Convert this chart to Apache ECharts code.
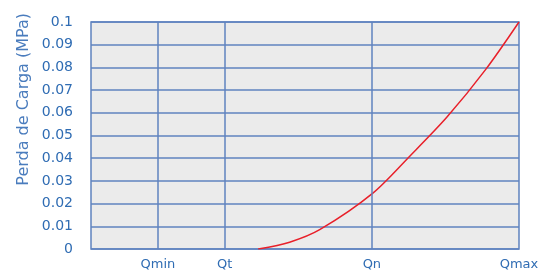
<!DOCTYPE html>
<html>
<head>
<meta charset="utf-8">
<script src="https://cdn.jsdelivr.net/npm/echarts@6/dist/echarts.min.js"></script>
<style>
  html, body { margin: 0; padding: 0; background: #fff; }
  #chart { width: 545px; height: 271px; }
</style>
</head>
<body>
<div id="chart"></div>
<script>
// flow positions (relative units) and their labels
var flowTicks = [1, 2, 4.2, 6.4];
var flowLabels = ['Qmin', 'Qt', 'Qn', 'Qmax'];
// head loss curve: [flow, MPa]
var lossFlow = [2.5, 2.97, 3.42, 4.21, 4.77, 5.32, 5.9, 6.4];
var lossValue = [0, 0.003, 0.0085, 0.0245, 0.041, 0.058, 0.079, 0.1];

(function() {
  var blue = '#2f6cb3';
  var gridBlue = '#5f83bf';
  var font = 'DejaVu Sans, sans-serif';
  var el = document.getElementById('chart');
  var chart = echarts.init(el, null, { renderer: 'canvas' });
  var pts = lossFlow.map(function(x, i) { return [x, lossValue[i]]; });

  chart.setOption({
    animation: false,
    grid: { left: 91, right: 26, top: 22, bottom: 22, show: true,
      backgroundColor: '#ebebeb', borderColor: gridBlue, borderWidth: 1.5 },
    xAxis: {
      type: 'value', min: 0, max: 6.4,
      axisLine: { show: false },
      axisTick: { show: false, customValues: flowTicks },
      axisLabel: {
        customValues: flowTicks, color: blue, fontSize: 13, margin: 9,
        fontFamily: font,
        formatter: function(v) {
          var i = flowTicks.indexOf(v);
          return i >= 0 ? flowLabels[i] : '';
        }
      },
      splitLine: { show: false }
    },
    yAxis: {
      type: 'value', min: 0, max: 0.1, interval: 0.01,
      axisLine: { show: false },
      axisTick: { show: false },
      axisLabel: { color: blue, fontSize: 14, margin: 18, fontFamily: font,
        formatter: function(v) { return String(+v.toFixed(2)); } },
      splitLine: { lineStyle: { color: gridBlue, width: 1.5 } }
    },
    graphic: [{
      type: 'text', left: 16, top: 13, rotation: Math.PI / 2,
      style: { text: 'Perda de Carga (MPa)', fill: '#4a7cbd', fontSize: 16,
        fontFamily: font }
    }],
    series: [{
      type: 'line',
      data: pts,
      smooth: 0.3,
      symbol: 'none',
      lineStyle: { color: '#e8202a', width: 1.5 },
      markLine: {
        silent: true, symbol: 'none', label: { show: false },
        lineStyle: { color: gridBlue, width: 1.5, type: 'solid' },
        data: flowTicks.slice(0, 3).map(function(v) { return { xAxis: v }; })
      },
      z: 3
    }]
  });
  window.addEventListener('resize', function() { chart.resize(); });
})();
</script>
</body>
</html>
